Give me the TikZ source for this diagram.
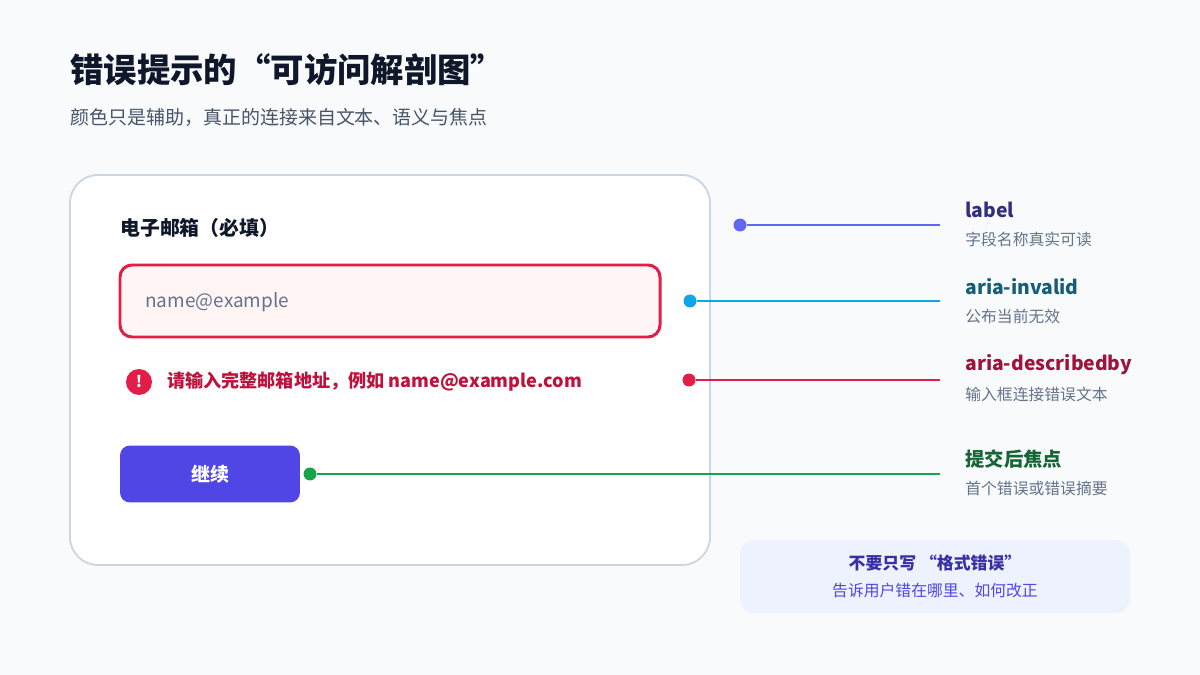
\documentclass[tikz,border=0pt]{standalone}
\usepackage{fontspec}
\setmainfont{Noto Sans CJK SC}
\usetikzlibrary{positioning}
\definecolor{bgcol}{HTML}{F8FAFC}
\definecolor{ink}{HTML}{0F172A}
\definecolor{slate}{HTML}{475569}
\definecolor{muted}{HTML}{64748B}
\definecolor{edge}{HTML}{CBD5E1}
\definecolor{rose}{HTML}{E11D48}
\definecolor{rosedark}{HTML}{BE123C}
\definecolor{rosewine}{HTML}{9F1239}
\definecolor{rosebg}{HTML}{FFF5F5}
\definecolor{indigo}{HTML}{4F46E5}
\definecolor{indigolt}{HTML}{6366F1}
\definecolor{indigodk}{HTML}{312E81}
\definecolor{indigotx}{HTML}{3730A3}
\definecolor{indigobg}{HTML}{EEF2FF}
\definecolor{sky}{HTML}{0EA5E9}
\definecolor{skydk}{HTML}{155E75}
\definecolor{green}{HTML}{16A34A}
\definecolor{greendk}{HTML}{166534}
\tikzstyle{dot} = [circle, inner sep=0pt, minimum size=0.26cm]
\tikzstyle{link} = [line width=1.5pt]
\tikzstyle{tag} = [anchor=west, inner sep=0pt, font=\bfseries\fontsize{11}{13}\selectfont]
\tikzstyle{hint} = [anchor=west, inner sep=0pt, text=muted, font=\fontsize{9}{11}\selectfont]
\begin{document}
\begin{tikzpicture}[x=0.02cm, y=-0.02cm]
  \fill[bgcol] (0,0) rectangle (1200,675);
  \useasboundingbox (0,0) rectangle (1200,675);

  % heading
  \node[anchor=west, inner sep=0pt, text=ink, font=\bfseries\fontsize{19}{23}\selectfont] (title) at (70,70) {错误提示的“可访问解剖图”};
  \node[anchor=west, inner sep=0pt, text=slate, font=\fontsize{10.8}{13}\selectfont] (sub) at (70,117) {颜色只是辅助，真正的连接来自文本、语义与焦点};

  % form card
  \draw[edge, fill=white, line width=1pt, rounded corners=0.56cm] (70,175) rectangle (710,565);
  \node[anchor=west, inner sep=0pt, text=ink, font=\bfseries\fontsize{11.3}{13}\selectfont] (field) at (120,228) {电子邮箱（必填）};
  \draw[rose, fill=rosebg, line width=1.7pt, rounded corners=0.24cm] (120,265) rectangle (660,337);
  \node[anchor=west, inner sep=0pt, text=muted, font=\fontsize{10.8}{13}\selectfont] (input) at (145,302) {name@example};
  \node[circle, fill=rose, minimum size=0.52cm, inner sep=0pt, text=white, font=\bfseries\fontsize{9}{10}\selectfont] (icon) at (139,382) {!};
  \node[anchor=west, inner sep=0pt, text=rosedark, font=\bfseries\fontsize{10.3}{12}\selectfont] (err) at (167,382) {请输入完整邮箱地址，例如 name@example.com};
  \node[fill=indigo, rounded corners=0.2cm, minimum width=3.6cm, minimum height=1.14cm, text=white, font=\bfseries\fontsize{10.8}{13}\selectfont] (btn) at (210,474) {继续};

  % connectors
  \node[dot, fill=indigolt] (d1) at (740,225) {};
  \node[dot, fill=sky] (d2) at (690,301) {};
  \node[dot, fill=rose] (d3) at (689,380) {};
  \node[dot, fill=green] (d4) at (310,474) {};
  \coordinate (e1) at (940,225);
  \coordinate (e2) at (940,301);
  \coordinate (e3) at (940,380);
  \coordinate (e4) at (940,474);
  \draw[link, indigolt] (d1) -- (e1);
  \draw[link, sky] (d2) -- (e2);
  \draw[link, rose] (d3) -- (e3);
  \draw[link, green] (d4) -- (e4);

  \node[tag, text=indigodk] (t1) at (965,210) {label};
  \node[hint] (h1) at (965,239) {字段名称真实可读};
  \node[tag, text=skydk] (t2) at (965,287) {aria-invalid};
  \node[hint] (h2) at (965,316) {公布当前无效};
  \node[tag, text=rosewine] (t3) at (965,365) {aria-describedby};
  \node[hint] (h3) at (965,394) {输入框连接错误文本};
  \node[tag, text=greendk] (t4) at (965,459) {提交后焦点};
  \node[hint] (h4) at (965,488) {首个错误或错误摘要};

  % note
  \fill[indigobg, rounded corners=0.28cm] (740,540) rectangle (1130,613);
  \node[inner sep=0pt, text=indigotx, font=\bfseries\fontsize{9.6}{12}\selectfont] (note) at (935,563) {不要只写 “格式错误”};
  \node[inner sep=0pt, text=indigo, font=\fontsize{9}{11}\selectfont] (noteb) at (935,591) {告诉用户错在哪里、如何改正};
\end{tikzpicture}
\end{document}
